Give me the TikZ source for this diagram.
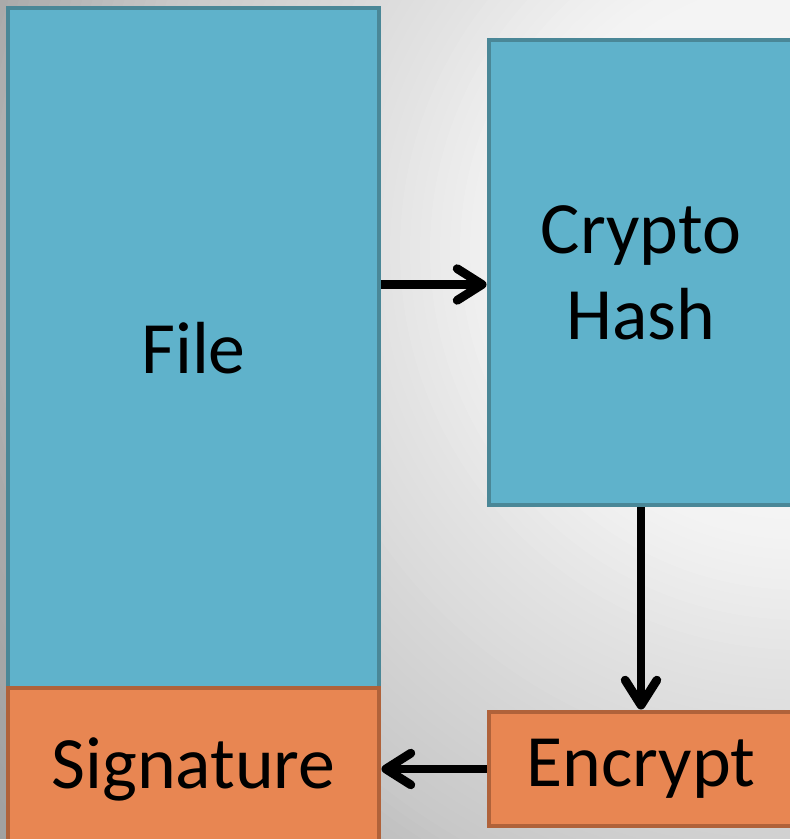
\documentclass[tikz,border=0pt]{standalone}
\usepackage{fontspec}
\setmainfont{Carlito}
\usetikzlibrary{arrows.meta}
\definecolor{bluefill}{HTML}{5FB2CB}
\definecolor{blueline}{HTML}{4A8797}
\definecolor{orangefill}{HTML}{E88652}
\definecolor{orangeline}{HTML}{B0623A}
\begin{document}
\begin{tikzpicture}
			[x=0.03cm,y=0.03cm,
			mybox/.style={rectangle,draw,line width=4.2pt,inner sep=0pt,align=center,
				font=\fontsize{63}{73.5}\selectfont},
			bluebox/.style={mybox,fill=bluefill,draw=blueline},
			orangebox/.style={mybox,fill=orangefill,draw=orangeline},
			flow/.style={line width=7.5pt,-{Straight Barb[length=0.75cm,width=0.95cm,round]}},]
		\useasboundingbox (0,0) rectangle (790,839);
		\clip (0,0) rectangle (790,839);
		% background, light towards the upper right
		\foreach \r in {1200,1190,...,10}
		{
			\pgfmathsetmacro\ringv{(247-3*min(\r,260)/260-2*min(max(\r-260,0),47)/47
				-15*min(max(\r-307,0),113)/113-27*min(max(\r-420,0),260)/260
				-30*min(max(\r-680,0),160)/160-10*min(max(\r-840,0),160)/160)/255}
			\definecolor{ringcol}{gray}{\ringv}
			\fill[ringcol] (800,589) circle (\r);
		}
		% boxes
		\node[bluebox,name=file,minimum width=371*0.03cm,minimum height=680*0.03cm]
			at (193.5,491) {File};
		\node[orangebox,name=signature,minimum width=371*0.03cm,minimum height=162*0.03cm]
			at (193.5,70) {Signature};
		\node[bluebox,name=hash,minimum width=304*0.03cm,minimum height=465*0.03cm]
			at (641,566.5) {Crypto\\Hash};
		\node[orangebox,name=encrypt,minimum width=304*0.03cm,minimum height=114*0.03cm]
			at (641,70) {Encrypt};
		% arrows
		\draw[flow] ([yshift=-0.36cm]hash.west -| file.east) -- ([yshift=-0.36cm]hash.west);
		\draw[flow] (hash.south) -- (encrypt.north);
		\draw[flow] (encrypt.west) -- (signature.east);
		\end{tikzpicture}
\end{document}
